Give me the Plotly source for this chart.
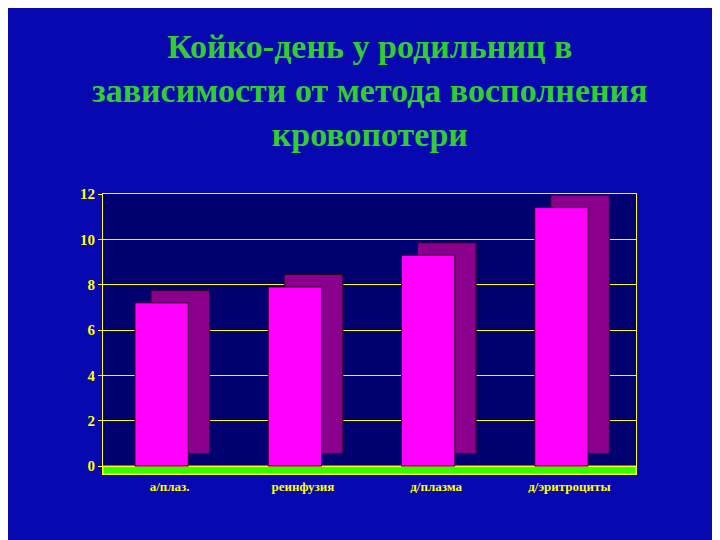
import plotly.graph_objects as go

categories = ["а/плаз.", "реинфузия", "д/плазма", "д/эритроциты"]
values = [7.2, 7.9, 9.3, 11.4]
tick_vals = [0, 2, 4, 6, 8, 10, 12]

depth = 0.55
x = list(range(len(categories)))

fig = go.Figure()
# depth (side/top) faces
fig.add_trace(go.Bar(x=x, y=values, base=[depth]*len(values), offset=-0.14, width=0.44,
                     marker=dict(color="#8a008c", line=dict(color="#2a002a", width=1)),
                     hoverinfo="skip", showlegend=False))
# front faces
fig.add_trace(go.Bar(x=x, y=values, offset=-0.26, width=0.40,
                     marker=dict(color="#ff00ff", line=dict(color="#300030", width=1)),
                     showlegend=False))

fig.add_shape(type="rect", xref="x", yref="y", x0=-0.5, x1=3.5, y0=-0.35, y1=0,
              fillcolor="#33ff00", line=dict(color="#ffff00", width=1), layer="below")

fig.add_annotation(text="<b>Койко-день у родильниц в<br>зависимости от метода восполнения<br>кровопотери</b>",
                   xref="paper", yref="paper", x=0.5, y=1.6, xanchor="center", yanchor="top",
                   showarrow=False, align="center",
                   font=dict(family="Liberation Serif", size=34, color="#33cc33"))

fig.update_layout(
    width=720, height=540,
    margin=dict(l=95, r=92, t=186, b=74),
    paper_bgcolor="#0808b0",
    plot_bgcolor="#000070",
    barmode="overlay",
    xaxis=dict(range=[-0.5, 3.5], tickvals=x, ticktext=["<b>%s</b>" % c for c in categories],
               showgrid=False, showline=True, linecolor="#ffff00", mirror=True, ticks="",
               tickfont=dict(family="Liberation Serif", size=13, color="#ffff00")),
    yaxis=dict(range=[-0.35, 12], tickvals=tick_vals, ticktext=["<b>%d</b>" % v for v in tick_vals],
               showgrid=True, gridcolor="#ffff00",
               gridwidth=1, zeroline=False, showline=True, linecolor="#ffff00", mirror=True,
               ticks="outside", tickcolor="#ffff00", ticklen=4,
               tickfont=dict(family="Liberation Serif", size=15, color="#ffff00")),
)
fig.write_html("out.html")
